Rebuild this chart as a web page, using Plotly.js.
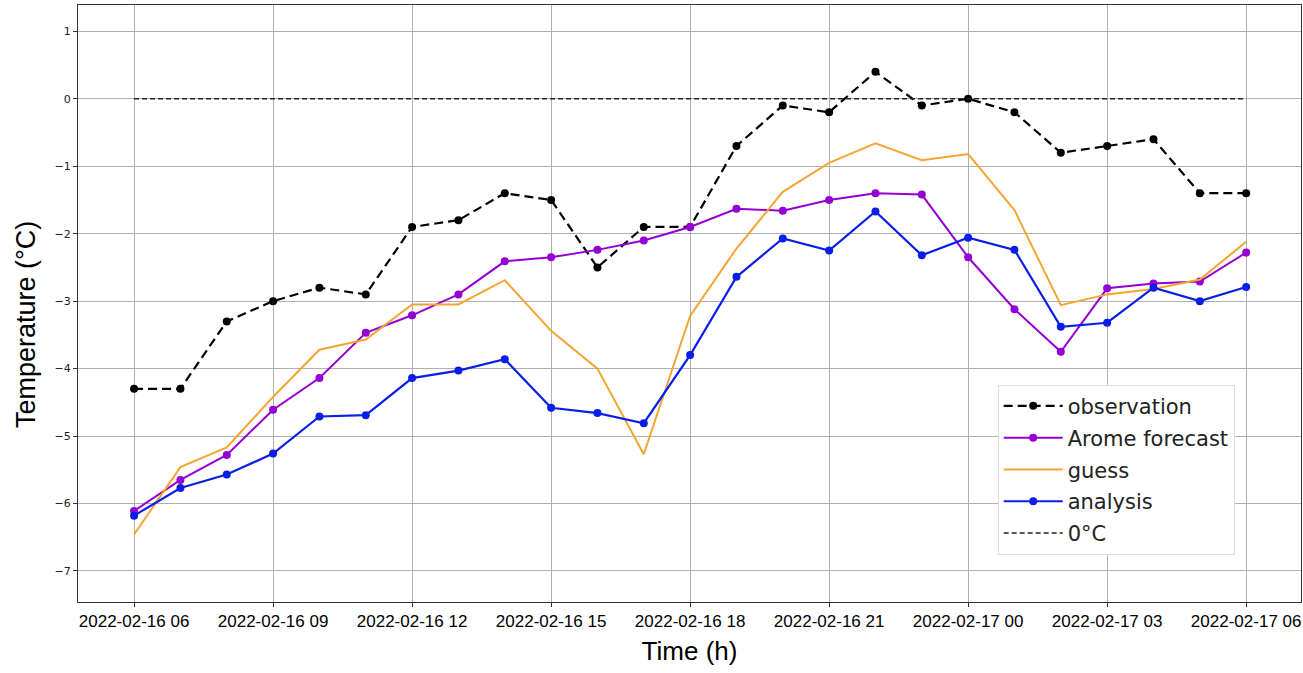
<!DOCTYPE html>
<html>
<head>
<meta charset="utf-8">
<script src="https://cdn.plot.ly/plotly-3.0.1.min.js"></script>
<style>html,body{margin:0;padding:0;background:#fff;}#chart{width:1303px;height:673px;}</style>
</head>
<body>
<div id="chart"></div>
<script>
const times = [
  "2022-02-16 06:00","2022-02-16 07:00","2022-02-16 08:00","2022-02-16 09:00","2022-02-16 10:00",
  "2022-02-16 11:00","2022-02-16 12:00","2022-02-16 13:00","2022-02-16 14:00","2022-02-16 15:00",
  "2022-02-16 16:00","2022-02-16 17:00","2022-02-16 18:00","2022-02-16 19:00","2022-02-16 20:00",
  "2022-02-16 21:00","2022-02-16 22:00","2022-02-16 23:00","2022-02-17 00:00","2022-02-17 01:00",
  "2022-02-17 02:00","2022-02-17 03:00","2022-02-17 04:00","2022-02-17 05:00","2022-02-17 06:00"
];
const observation = [-4.3,-4.3,-3.3,-3.0,-2.8,-2.9,-1.9,-1.8,-1.4,-1.5,-2.5,-1.9,-1.9,-0.7,-0.1,-0.2,0.4,-0.1,0.0,-0.2,-0.8,-0.7,-0.6,-1.4,-1.4];
const arome = [-6.11,-5.65,-5.28,-4.61,-4.14,-3.47,-3.21,-2.90,-2.41,-2.35,-2.24,-2.10,-1.90,-1.63,-1.66,-1.50,-1.40,-1.42,-2.35,-3.12,-3.75,-2.81,-2.74,-2.71,-2.28];
const guess = [-6.46,-5.46,-5.17,-4.42,-3.72,-3.57,-3.05,-3.05,-2.69,-3.44,-4.00,-5.27,-3.22,-2.22,-1.38,-0.95,-0.66,-0.91,-0.82,-1.65,-3.06,-2.90,-2.82,-2.68,-2.12];
const analysis = [-6.18,-5.77,-5.57,-5.26,-4.71,-4.69,-4.14,-4.03,-3.86,-4.58,-4.66,-4.81,-3.80,-2.64,-2.07,-2.25,-1.67,-2.32,-2.06,-2.24,-3.38,-3.32,-2.80,-3.00,-2.79];
const zeroLine = [0, 0];
const yTicks = [-7,-6,-5,-4,-3,-2,-1,0,1];

const traces = [
  {x: times, y: observation, name: "observation", mode: "lines+markers", legendgroup: "a",
   line: {color: "#000000", width: 2.2, dash: "9px,5px"}, marker: {color: "#000000", size: 8}},
  {x: times, y: arome, name: "Arome forecast", mode: "lines+markers", legendgroup: "b",
   line: {color: "#9400D3", width: 2}, marker: {color: "#9400D3", size: 8}},
  {x: times, y: guess, name: "guess", mode: "lines", legendgroup: "c",
   line: {color: "#F5A531", width: 2}},
  {x: times, y: analysis, name: "analysis", mode: "lines+markers", legendgroup: "d",
   line: {color: "#0A1EE8", width: 2.2}, marker: {color: "#0A1EE8", size: 8}},
  {x: [times[0], times[times.length-1]], y: zeroLine, name: "0°C", mode: "lines", legendgroup: "e",
   line: {color: "#222222", width: 1.6, dash: "5px,3px"}}
];

const layout = {
  width: 1303, height: 673,
  margin: {l: 78, r: 2, t: 5, b: 71},
  paper_bgcolor: "#ffffff", plot_bgcolor: "#ffffff",
  showlegend: true,
  legend: {x: 0.752, y: 0.364, xanchor: "left", yanchor: "top",
           bgcolor: "#ffffff", bordercolor: "#dddddd", borderwidth: 1,
           font: {family: "DejaVu Sans", size: 21, color: "#222222"},
           tracegroupgap: 1.5, itemwidth: 59},
  annotations: [{
    text: "Temperature (°C)", textangle: -90,
    xref: "paper", yref: "paper", x: -0.0425, y: 0.464,
    xanchor: "center", yanchor: "middle", showarrow: false,
    font: {family: "Liberation Sans, Arial", size: 27, color: "#000000"}
  }],
  xaxis: {
    type: "date",
    range: ["2022-02-16 04:47:24", "2022-02-17 07:11:00"],
    tick0: "2022-02-16 06:00", dtick: 3*3600000,
    tickformat: "%Y-%m-%d %H",
    showgrid: true, gridcolor: "#b0b0b0", gridwidth: 1,
    zeroline: false, showline: true, linecolor: "#333333", linewidth: 1, mirror: true,
    ticks: "outside", ticklen: 4, tickcolor: "#333333",
    tickfont: {family: "Liberation Sans, Arial", size: 17, color: "#000000"},
    title: {text: "Time (h)", font: {family: "Liberation Sans, Arial", size: 26, color: "#000000"}, standoff: 11}
  },
  yaxis: {
    range: [-7.46, 1.39],
    tickvals: yTicks,
    showgrid: true, gridcolor: "#b0b0b0", gridwidth: 1,
    zeroline: false, showline: true, linecolor: "#333333", linewidth: 1, mirror: true,
    ticks: "outside", ticklen: 4, tickcolor: "#333333",
    tickfont: {family: "DejaVu Sans", size: 11, color: "#222222"}
  }
};

Plotly.newPlot("chart", traces, layout, {displayModeBar: false, staticPlot: true});
</script>
</body>
</html>
